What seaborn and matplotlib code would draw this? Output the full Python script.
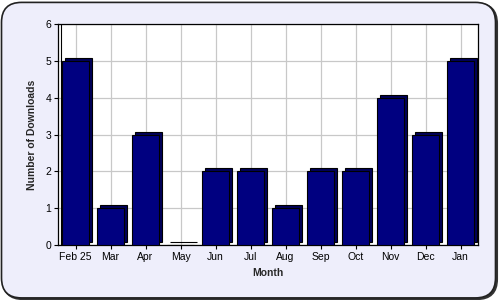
import matplotlib
matplotlib.use("Agg")
import matplotlib.pyplot as plt
import matplotlib.transforms as mtransforms
from matplotlib.patches import FancyBboxPatch
import seaborn as sns
import pandas as pd

months = ["Feb 25", "Mar", "Apr", "May", "Jun", "Jul", "Aug", "Sep", "Oct", "Nov", "Dec", "Jan"]
downloads = [5, 1, 3, 0, 2, 2, 1, 2, 2, 4, 3, 5]

df = pd.DataFrame({"Month": months, "Downloads": downloads})

sns.set_theme(style="white")
plt.rcParams["font.family"] = ["Liberation Sans", "DejaVu Sans"]

fig = plt.figure(figsize=(5, 3), dpi=100)
fig.patch.set_facecolor("white")
shadow = FancyBboxPatch((0.006, 0.003), 0.988, 0.985, boxstyle="round,pad=0,rounding_size=0.04",
                        transform=fig.transFigure, facecolor="#333333", edgecolor="#333333",
                        linewidth=1.5, mutation_aspect=5/3, zorder=-11)
fig.patches.append(shadow)
bg = FancyBboxPatch((0.003, 0.007), 0.988, 0.985, boxstyle="round,pad=0,rounding_size=0.04",
                    transform=fig.transFigure, facecolor="#EEEEFB", edgecolor="#222222",
                    linewidth=1.2, mutation_aspect=5/3, zorder=-10)
fig.patches.append(bg)

ax = fig.add_axes([0.116, 0.183, 0.84, 0.737])
ax.set_zorder(1)
ax.set_facecolor("white")

# back (depth) bars
sns.barplot(data=df, x="Month", y="Downloads", ax=ax, color="#00005A", saturation=1,
            width=0.77, edgecolor="black", linewidth=0.8, zorder=2)
back = list(ax.patches)
off = mtransforms.offset_copy(ax.transData, fig=fig, x=3, y=3, units="dots")
for p in back:
    p.set_transform(off)
# front bars
sns.barplot(data=df, x="Month", y="Downloads", ax=ax, color="#000080", saturation=1,
            width=0.77, edgecolor="black", linewidth=0.8, zorder=3)

ax.set_ylim(0, 6)
ax.set_xlim(-0.5, len(months) - 0.5)
ax.set_yticks(range(0, 7))
ax.grid(True, color="#C8C8C8", linewidth=0.9, zorder=0)
ax.set_axisbelow(True)
# inner wall line (3D effect)
wall = ax.axvline(-0.5, color="black", linewidth=0.8, zorder=1)
wall.set_transform(mtransforms.offset_copy(ax.get_xaxis_transform(), fig=fig, x=3, y=0, units="dots"))
for s in ax.spines.values():
    s.set_color("black")
    s.set_linewidth(0.9)
ax.tick_params(axis="both", which="both", length=3, width=0.8, color="black",
               labelsize=7.5, labelcolor="black", pad=2, bottom=True, left=True)
ax.set_xlabel("Month", fontsize=7.5, fontweight="bold", labelpad=4)
ax.set_ylabel("Number of Downloads", fontsize=7.5, fontweight="bold", labelpad=6)

fig.savefig("out.png", dpi=100, facecolor=fig.get_facecolor())
